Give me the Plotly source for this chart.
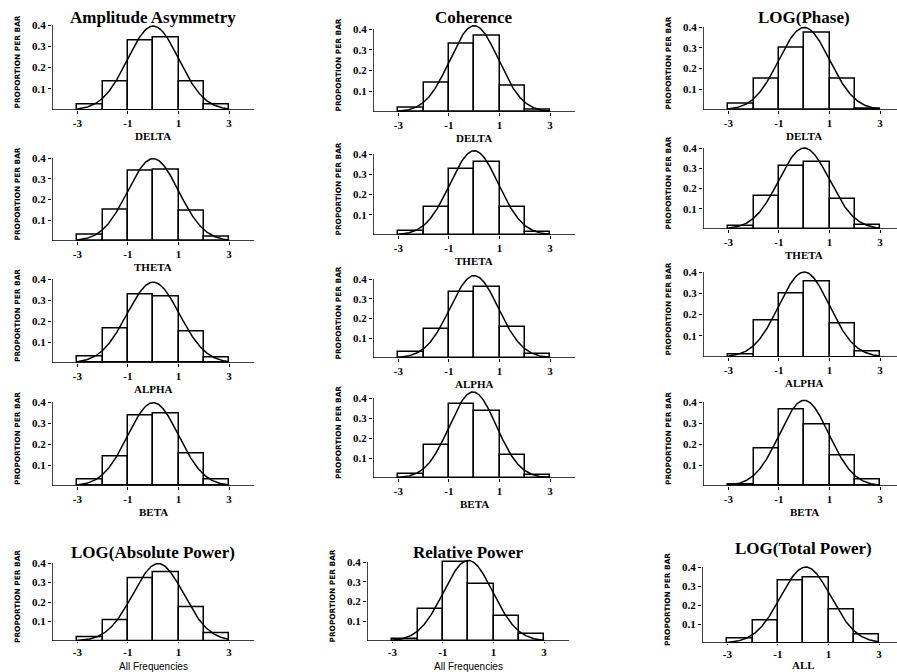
import numpy as np
import plotly.graph_objects as go

# ---------------- data ----------------
bin_centers = [-2.5, -1.5, -0.5, 0.5, 1.5, 2.5]
x_tick_vals = [-3, -1, 1, 3]
x_tick_text = ["-3", "-1", "1", "3"]
y_tick_vals = [0.1, 0.2, 0.3, 0.4]
y_tick_text = ["0.1", "0.2", "0.3", "0.4"]

amp_delta = [0.028, 0.136, 0.329, 0.342, 0.136, 0.024]
amp_theta = [0.028, 0.152, 0.340, 0.345, 0.144, 0.023]
amp_alpha = [0.032, 0.164, 0.324, 0.317, 0.150, 0.028]
amp_beta = [0.032, 0.141, 0.333, 0.344, 0.154, 0.032]

coh_delta = [0.019, 0.141, 0.327, 0.369, 0.125, 0.013]
coh_theta = [0.021, 0.137, 0.326, 0.362, 0.137, 0.013]
coh_alpha = [0.031, 0.146, 0.332, 0.361, 0.154, 0.022]
coh_beta = [0.020, 0.163, 0.370, 0.337, 0.113, 0.017]

phase_delta = [0.029, 0.150, 0.298, 0.371, 0.150, 0.006]
phase_theta = [0.015, 0.165, 0.310, 0.330, 0.150, 0.020]
phase_alpha = [0.010, 0.170, 0.300, 0.355, 0.160, 0.025]
phase_beta = [0.006, 0.179, 0.366, 0.294, 0.147, 0.030]

abs_power_all = [0.022, 0.107, 0.323, 0.351, 0.175, 0.039]
rel_power_all = [0.008, 0.161, 0.398, 0.288, 0.124, 0.034]
total_power_all = [0.023, 0.119, 0.330, 0.347, 0.175, 0.044]

# fitted normal curve: mean and peak height per panel
amp_curve_mean = [0.0, 0.0, 0.0, 0.0]
amp_curve_peak = [0.395, 0.397, 0.385, 0.397]
coh_curve_mean = [0.0, 0.0, 0.0, -0.05]
coh_curve_peak = [0.416, 0.416, 0.417, 0.43]
phase_curve_mean = [0.0, 0.0, 0.0, 0.0]
phase_curve_peak = [0.398, 0.40, 0.40, 0.408]
all_curve_mean = [0.2, 0.0, 0.1]
all_curve_peak = [0.397, 0.408, 0.40]

column_titles = ["Amplitude Asymmetry", "Coherence", "LOG(Phase)"]
bottom_titles = ["LOG(Absolute Power)", "Relative Power", "LOG(Total Power)"]
band_labels = ["DELTA", "THETA", "ALPHA", "BETA"]
all_labels = ["All Frequencies", "All Frequencies", "ALL"]
y_title = "PROPORTION PER BAR"

grid_values = [
    [amp_delta, coh_delta, phase_delta],
    [amp_theta, coh_theta, phase_theta],
    [amp_alpha, coh_alpha, phase_alpha],
    [amp_beta, coh_beta, phase_beta],
    [abs_power_all, rel_power_all, total_power_all],
]
grid_mean = [[amp_curve_mean[r], coh_curve_mean[r], phase_curve_mean[r]] for r in range(4)] + [all_curve_mean]
grid_peak = [[amp_curve_peak[r], coh_curve_peak[r], phase_curve_peak[r]] for r in range(4)] + [all_curve_peak]

# ---------------- layout (pixels) ----------------
W, H = 897, 672
UNIT = 25.3
col_x0 = [[52, 373, 703]] * 4 + [[52, 367, 702]]
row_box = [  # (y px of 0.4, y px of axis) per column
    [(25, 110), (29, 112), (27, 110)],
    [(158, 241), (154, 235), (148, 229)],
    [(279, 363), (279, 358), (272, 357)],
    [(402, 486), (398, 478), (402, 486)],
    [(563, 641), (562, 641), (567, 643)],
]
YMAX = 0.44

fig = go.Figure()
layout = dict(
    width=W, height=H, autosize=False,
    margin=dict(l=0, r=0, t=0, b=0),
    paper_bgcolor="white", plot_bgcolor="white",
    showlegend=False, bargap=0,
)
shapes = []
annotations = []
tick_font = dict(family="Liberation Serif", size=11, color="black", weight="bold")

idx = 0
for r in range(5):
    for c in range(3):
        idx += 1
        xa = "x" if idx == 1 else f"x{idx}"
        ya = "y" if idx == 1 else f"y{idx}"
        xk = "xaxis" if idx == 1 else f"xaxis{idx}"
        yk = "yaxis" if idx == 1 else f"yaxis{idx}"
        x0 = col_x0[r][c]
        x1 = min(x0 + 8 * UNIT, W)
        xr_hi = -4 + (x1 - x0) / UNIT
        ytop, ybot = row_box[r][c]
        ppu = (ybot - ytop) / 0.4
        dom_top = ybot - YMAX * ppu

        vals = grid_values[r][c]
        fig.add_trace(go.Bar(
            x=bin_centers, y=vals, width=1.0,
            marker=dict(color="white", line=dict(color="black", width=1.5)),
            xaxis=xa, yaxis=ya, hoverinfo="skip",
        ))
        m = grid_mean[r][c]
        pk = grid_peak[r][c]
        sd = 1.0 / (pk * np.sqrt(2 * np.pi))
        xs = np.linspace(-3, 3, 241)
        ys = np.exp(-0.5 * ((xs - m) / sd) ** 2) / (sd * np.sqrt(2 * np.pi))
        fig.add_trace(go.Scatter(
            x=xs, y=ys, mode="lines", line=dict(color="black", width=1.5),
            xaxis=xa, yaxis=ya, hoverinfo="skip",
        ))

        layout[xk] = dict(
            domain=[x0 / W, x1 / W], range=[-4, xr_hi], anchor=ya,
            showline=False, ticks="outside", ticklen=(3 if r < 4 else 1), tickcolor="black",
            tickvals=x_tick_vals, ticktext=x_tick_text, tickfont=tick_font,
            showgrid=False, zeroline=False, fixedrange=True,
        )
        layout[yk] = dict(
            domain=[1 - ybot / H, 1 - dom_top / H], range=[0, YMAX], anchor=xa,
            showline=False, ticks="outside", ticklen=3, tickcolor="black",
            tickvals=y_tick_vals, ticktext=y_tick_text, tickfont=tick_font,
            showgrid=False, zeroline=False, fixedrange=True,
        )
        # axis lines
        shapes.append(dict(type="line", xref=xa, yref=ya, x0=-4, x1=-4, y0=0, y1=0.4,
                           line=dict(color="black", width=1.5)))
        shapes.append(dict(type="line", xref=xa, yref=ya, x0=-4, x1=xr_hi, y0=0, y1=0,
                           line=dict(color="black", width=1.5)))

        # y-axis title
        annotations.append(dict(
            text=y_title, xref="paper", yref="paper",
            x=(x0 - 35) / W, y=1 - ((ytop + ybot) / 2 - 5) / H,
            textangle=-90, showarrow=False, xanchor="center", yanchor="middle",
            font=dict(family="DejaVu Sans", size=7.4, color="black", weight="bold"),
        ))
        # x-axis title
        xcenter = x0 + 4 * UNIT
        if r < 4:
            xt = band_labels[r]
            xf = dict(family="Liberation Serif", size=11, color="black", weight="bold")
            xoff = 26
        else:
            xt = all_labels[c]
            if c < 2:
                xf = dict(family="Liberation Sans", size=10, color="black")
                xoff = 25
            else:
                xf = dict(family="Liberation Serif", size=11, color="black", weight="bold")
                xoff = 22
        annotations.append(dict(
            text=xt, xref="paper", yref="paper", x=xcenter / W, y=1 - (ybot + xoff) / H,
            showarrow=False, xanchor="center", yanchor="middle", font=xf,
        ))
        # panel titles
        if r == 0 or r == 4:
            tt = column_titles[c] if r == 0 else bottom_titles[c]
            ty = 17 if r == 0 else [552, 552, 548][c]
            annotations.append(dict(
                text=tt, xref="paper", yref="paper", x=xcenter / W, y=1 - ty / H,
                showarrow=False, xanchor="center", yanchor="middle",
                font=dict(family="Liberation Serif", size=17, color="black", weight="bold"),
            ))

layout["shapes"] = shapes
layout["annotations"] = annotations
fig.update_layout(**layout)
fig.write_html("out.html")
